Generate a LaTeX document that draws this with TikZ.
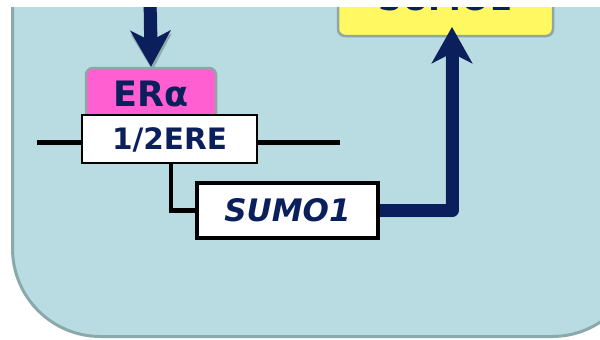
\documentclass[tikz,border=0pt]{standalone}
\usepackage{fontspec}
\setmainfont{DejaVu Sans}
\usetikzlibrary{arrows.meta}
\definecolor{panelblue}{HTML}{B8DCE1}
\definecolor{panelrim}{HTML}{8AA9AB}
\definecolor{navy}{HTML}{0B1F5C}
\definecolor{pinkbox}{HTML}{FF5FD0}
\definecolor{yellowbox}{HTML}{FFF860}
\definecolor{boxrim}{HTML}{8FA6A4}
\tikzset{
  softbox/.style={draw=boxrim, line width=2.5pt, rounded corners=7pt, inner sep=0pt,
    text=navy, font=\bfseries},
  dnabox/.style={draw=black, line width=2.8pt, fill=white, inner sep=0pt,
    text=navy, font=\bfseries},
  strand/.style={draw=black, line width=4.5pt},
  thickarrow/.style={draw=navy, line width=13pt, line join=round,
    -{Stealth[length=36pt, width=40pt, inset=10pt]}},
  arrowshade/.style={draw=black, line width=13pt, line join=round,
    -{Stealth[length=36pt, width=40pt, inset=10pt]}},
}
\begin{document}
\begin{tikzpicture}[x=1pt, y=-1pt]
\useasboundingbox (0,0) rectangle (600,340);
% panel
\fill[white] (0,0) rectangle (600,340);
\draw[fill=panelblue, draw=panelrim, line width=3pt, rounded corners=88pt]
  (12.5,-120) rectangle (640,336.5);

% target protein box at the top
\node[softbox, fill=yellowbox, minimum width=215pt, minimum height=76pt,
  font=\bfseries\fontsize{33}{33}\selectfont, text height=24pt, text depth=0pt]
  (yel) at (445.5,-2) {SUMO1};

% DNA strand and the branch to the gene box
\coordinate (strandL) at (37,142.5);
\coordinate (strandR) at (340,142.5);
\coordinate (dropx) at (171,0);
\draw[strand] (strandL) -- (strandR);

\node[dnabox, minimum width=179pt, minimum height=53pt,
  font=\bfseries\itshape\fontsize{31}{31}\selectfont, text height=22.5pt, text depth=0pt]
  (sumo) at (287.5,210.5) {SUMO1};

% arrows with soft shadows
\coordinate (topin) at (150,-6);
\coordinate (ytip) at (452,27);
\begin{scope}[transparency group, opacity=0.22, shift={(2.5,2.5)}]
  \draw[arrowshade] (topin) -- (150,68);
  \draw[arrowshade] (sumo.east) -| (ytip);
\end{scope}
\draw[thickarrow] (sumo.east) -| (ytip);

\node[softbox, fill=pinkbox, minimum width=130pt, minimum height=52pt,
  font=\bfseries\fontsize{35}{35}\selectfont, text height=25pt, text depth=0pt]
  (era) at (151,94) {ERα};
\draw[thickarrow] (topin) -- (era.north);

\node[dnabox, minimum width=175pt, minimum height=48pt,
  font=\bfseries\fontsize{29.5}{29.5}\selectfont, text height=21.5pt, text depth=0pt]
  (ere) at (169.5,139) {1/2ERE};

\draw[strand] (ere.south -| dropx) |- (sumo.west);
% redraw the gene box border over the branch end
\draw[draw=black, line width=2.8pt] (sumo.north west) rectangle (sumo.south east);

% blank strip along the top edge
\fill[white] (-2,-2) rectangle (602,7);
\end{tikzpicture}
\end{document}
